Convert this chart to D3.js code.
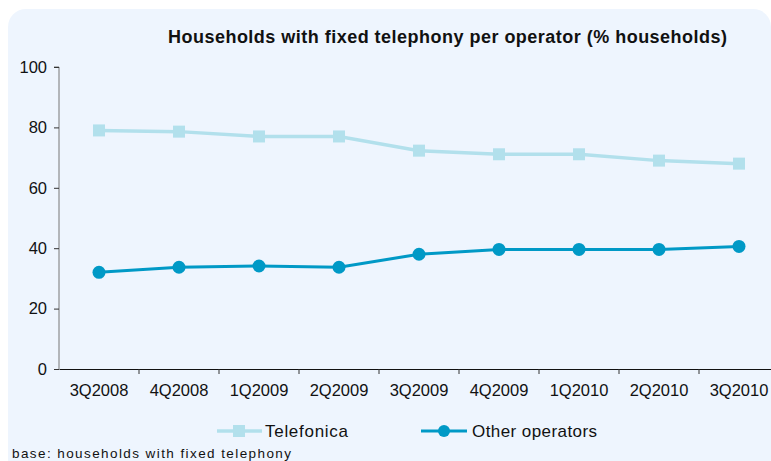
<!DOCTYPE html>
<html>
<head>
<meta charset="utf-8">
<script src="https://cdn.jsdelivr.net/npm/d3@7"></script>
<style>
  body { margin: 0; background: #fff; }
  svg { display: block; font-family: "Liberation Sans", Arial, sans-serif; }
</style>
</head>
<body>
<div class="chart"></div>
<script>
const quarters = ["3Q2008", "4Q2008", "1Q2009", "2Q2009", "3Q2009", "4Q2009", "1Q2010", "2Q2010", "3Q2010"];
const telefonica = [79, 78.6, 77, 77, 72.3, 71.1, 71.1, 69, 68];
const others = [32, 33.7, 34.1, 33.7, 38, 39.6, 39.6, 39.6, 40.6];
const yTicks = [0, 20, 40, 60, 80, 100];

const width = 771;
const height = 461;
const margin = {t: 67, l: 59, b: 92};

const svg = d3.select(".chart").append("svg")
  .attr("width", width)
  .attr("height", height);

// panel background
svg.append("rect")
  .attr("x", 8).attr("y", 9)
  .attr("width", 763).attr("height", 500)
  .attr("rx", 18)
  .attr("fill", "#eef5fe");

const x = d3.scaleBand()
  .domain(quarters)
  .range([margin.l, margin.l + 80 * quarters.length]);

const y = d3.scaleLinear()
  .domain([0, 100])
  .range([369, margin.t]);

// title
svg.append("text")
  .attr("x", 168).attr("y", 43)
  .attr("font-size", 18)
  .attr("font-weight", "bold")
  .attr("fill", "#111")
  .attr("textLength", 559)
  .attr("lengthAdjust", "spacing")
  .text("Households with fixed telephony per operator (% households)");

// y axis
const yAxis = svg.append("g")
  .attr("transform", `translate(${margin.l},0)`)
  .call(d3.axisLeft(y).tickValues(yTicks).tickSize(5).tickPadding(7));
yAxis.select(".domain").attr("stroke", "#777").attr("d", `M-5,${y(100)}H0V${y(0)}`);
yAxis.selectAll(".tick line").attr("stroke", "#333");
yAxis.selectAll("text").attr("font-size", 16.5).attr("fill", "#111")
  .attr("font-family", "Liberation Sans, Arial, sans-serif");

// x axis
const xAxis = svg.append("g")
  .attr("transform", `translate(0,${y(0)})`)
  .call(d3.axisBottom(x).tickSize(0).tickPadding(15));
xAxis.select(".domain").attr("stroke", "#111");
xAxis.selectAll("text").attr("font-size", 16.5).attr("fill", "#111")
  .attr("font-family", "Liberation Sans, Arial, sans-serif");
xAxis.selectAll(".boundary")
  .data(quarters)
  .enter().append("line")
  .attr("x1", d => x(d) + x.bandwidth())
  .attr("x2", d => x(d) + x.bandwidth())
  .attr("y1", 0).attr("y2", 5)
  .attr("stroke", "#333");

const cx = d => x(d) + x.bandwidth() / 2;
const line = d3.line()
  .x((d, i) => cx(quarters[i]))
  .y(d => y(d));

const lightColor = "#b2e0ec";
const darkColor = "#0099c6";

svg.append("path")
  .datum(telefonica)
  .attr("d", line)
  .attr("fill", "none")
  .attr("stroke", lightColor)
  .attr("stroke-width", 3.5);

svg.selectAll(".sq")
  .data(telefonica)
  .enter().append("rect")
  .attr("class", "sq")
  .attr("x", (d, i) => cx(quarters[i]) - 6)
  .attr("y", d => y(d) - 6)
  .attr("width", 12).attr("height", 12)
  .attr("fill", lightColor);

svg.append("path")
  .datum(others)
  .attr("d", line)
  .attr("fill", "none")
  .attr("stroke", darkColor)
  .attr("stroke-width", 3);

svg.selectAll(".dot")
  .data(others)
  .enter().append("circle")
  .attr("class", "dot")
  .attr("cx", (d, i) => cx(quarters[i]))
  .attr("cy", d => y(d))
  .attr("r", 6.5)
  .attr("fill", darkColor);

// legend
const legend = svg.append("g").attr("transform", "translate(0,431)");
const leg1 = legend.append("g").attr("transform", "translate(217,0)");
leg1.append("line").attr("x1", 0).attr("x2", 45).attr("stroke", lightColor).attr("stroke-width", 3.5);
leg1.append("rect").attr("x", 16).attr("y", -6).attr("width", 12).attr("height", 12).attr("fill", lightColor);
leg1.append("text").attr("x", 48).attr("y", 6).attr("font-size", 17).attr("fill", "#111")
  .attr("textLength", 83).attr("lengthAdjust", "spacing").text("Telefonica");

const leg2 = legend.append("g").attr("transform", "translate(421,0)");
leg2.append("line").attr("x1", 0).attr("x2", 46).attr("stroke", darkColor).attr("stroke-width", 3);
leg2.append("circle").attr("cx", 23).attr("cy", 0).attr("r", 6).attr("fill", darkColor);
leg2.append("text").attr("x", 51).attr("y", 6).attr("font-size", 17).attr("fill", "#111")
  .attr("textLength", 125).attr("lengthAdjust", "spacing").text("Other operators");

svg.append("text")
  .attr("x", 12).attr("y", 458)
  .attr("font-size", 13.5)
  .attr("fill", "#111")
  .attr("textLength", 279)
  .attr("lengthAdjust", "spacing")
  .text("base: households with fixed telephony");
</script>
</body>
</html>
